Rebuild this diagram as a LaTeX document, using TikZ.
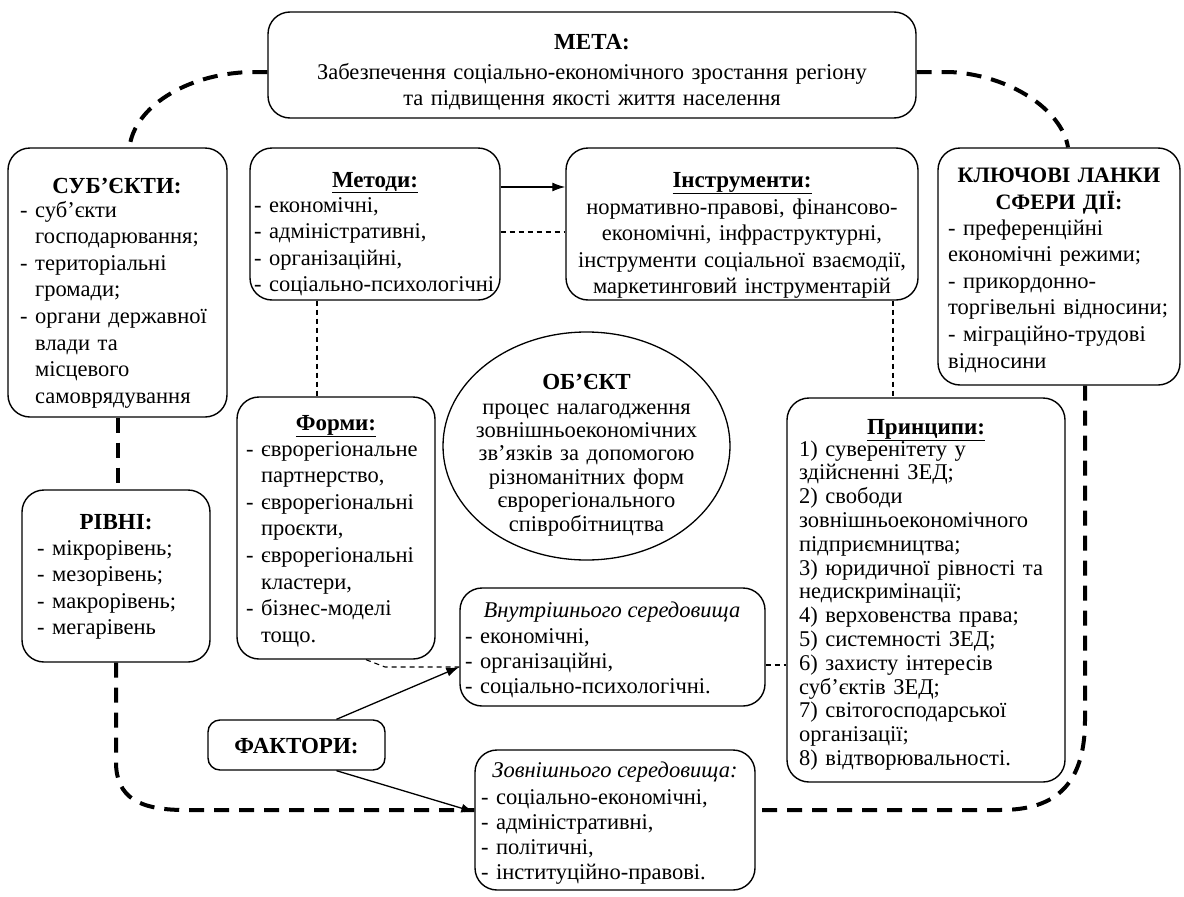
\documentclass[tikz,border=0pt]{standalone}
\usepackage{fontspec}
\setmainfont{Liberation Serif}
\usetikzlibrary{arrows.meta,shapes.geometric}
\begin{document}
\begin{tikzpicture}[x=1pt,y=-1pt,
  bx/.style={draw, line width=1.4pt, rounded corners=22pt, inner sep=0pt},
  txt/.style={inner sep=0pt, font=\fontsize{22.5}{26.6}\selectfont},
  ttl/.style={inner sep=0pt, font=\fontsize{23}{27}\selectfont\bfseries},
  utl/.style={inner sep=0pt, font=\fontsize{23}{27}\selectfont\bfseries},
  big/.style={line width=4pt, dash pattern=on 15pt off 10pt},
  thin/.style={line width=1.1pt, dash pattern=on 5pt off 4pt},
  arr/.style={line width=1.3pt, -{Latex[length=13pt,width=9pt]}},
]
\useasboundingbox (0,0) rectangle (1184,897);
\fill[white] (0,0) rectangle (1184,897);

% boxes
\node[bx, minimum width=648pt, minimum height=106pt] (meta) at (592,65) {};
\node[bx, minimum width=219pt, minimum height=269pt] (subj) at (117.5,282.5) {};
\node[bx, minimum width=188pt, minimum height=172pt] (rivni) at (116,576) {};
\node[bx, minimum width=250pt, minimum height=152pt] (metody) at (375,224) {};
\node[bx, minimum width=352pt, minimum height=152pt] (instr) at (742,224) {};
\node[bx, minimum width=242pt, minimum height=237pt] (klyuch) at (1059,266.5) {};
\node[bx, minimum width=198pt, minimum height=262pt] (formy) at (336,528) {};
\node[draw, ellipse, line width=1.3pt, minimum width=287pt, minimum height=228pt] (obj) at (586.5,446) {};
\node[bx, minimum width=278pt, minimum height=384pt] (pryn) at (926,590) {};
\node[bx, minimum width=305pt, minimum height=118pt] (vnutr) at (612.5,647) {};
\node[bx, rounded corners=12pt, minimum width=177pt, minimum height=50pt] (fakt) at (296.5,745) {};
\node[bx, minimum width=280pt, minimum height=140pt] (zovn) at (615,820) {};

% texts
\node[ttl, anchor=base] (metah) at (592,49) {МЕТА:};
\node[txt, anchor=base, align=center, text width=640pt] (metab) at (592,79) {Забезпечення соціально-економічного зростання регіону\\та підвищення якості життя населення};

\node[ttl, anchor=base] (subjh) at (117,193) {СУБ’ЄКТИ:};
\node[txt, anchor=base west, align=left, text width=300pt] (subjb) at (20,217) {- суб’єкти\\\hphantom{- }господарювання;\\- територіальні\\\hphantom{- }громади;\\- органи державної\\\hphantom{- }влади та\\\hphantom{- }місцевого\\\hphantom{- }самоврядування};

\node[ttl, anchor=base] (rivnih) at (116,529) {РІВНІ:};
\node[txt, anchor=base west, align=left, text width=300pt] (rivnib) at (37,555) {- мікрорівень;\\- мезорівень;\\- макрорівень;\\- мегарівень};

\node[utl, anchor=base] (metodyh) at (375,187) {\underline{Методи:}};
\node[txt, anchor=base west, align=left, text width=300pt] (metodyb) at (254,212) {- економічні,\\- адміністративні,\\- організаційні,\\- соціально-психологічні};

\node[utl, anchor=base] (instrh) at (742,187) {\underline{Інструменти:}};
\node[txt, anchor=base, align=center, text width=350pt] (instrb) at (742,214) {нормативно-правові, фінансово-\\економічні, інфраструктурні,\\інструменти соціальної взаємодії,\\маркетинговий інструментарій};

\node[ttl, anchor=base, align=center, text width=240pt, font=\fontsize{22}{27}\selectfont\bfseries] (klyuchh) at (1059,182) {КЛЮЧОВІ ЛАНКИ\\СФЕРИ ДІЇ:};
\node[txt, anchor=base west, align=left, text width=300pt] (klyuchb) at (948,235) {- преференційні\\економічні режими;\\- прикордонно-\\торгівельні відносини;\\- міграційно-трудові\\відносини};

\node[utl, anchor=base] (formyh) at (336,430) {\underline{Форми:}};
\node[txt, anchor=base west, align=left, text width=300pt] (formyb) at (246,456) {- єврорегіональне\\\hphantom{- }партнерство,\\- єврорегіональні\\\hphantom{- }проєкти,\\- єврорегіональні\\\hphantom{- }кластери,\\- бізнес-моделі\\\hphantom{- }тощо.};

\node[ttl, anchor=base] (objh) at (586.5,389) {ОБ’ЄКТ};
\node[txt, anchor=base, align=center, text width=280pt, font=\fontsize{22.5}{23.4}\selectfont] (objb) at (586.5,414) {процес налагодження\\зовнішньоекономічних\\зв’язків за допомогою\\різноманітних форм\\єврорегіонального\\співробітництва};

\node[utl, anchor=base] (prynh) at (926,434) {\underline{Принципи:}};
\node[txt, anchor=base west, align=left, text width=300pt, font=\fontsize{22.5}{23.8}\selectfont] (prynb) at (799,456) {1) суверенітету у\\здійсненні ЗЕД;\\2) свободи\\зовнішньоекономічного\\підприємництва;\\3) юридичної рівності та\\недискримінації;\\4) верховенства права;\\5) системності ЗЕД;\\6) захисту інтересів\\суб’єктів ЗЕД;\\7) світогосподарської\\організації;\\8) відтворювальності.};

\node[txt, anchor=base, font=\fontsize{22.5}{26.6}\selectfont\itshape] (vnutrh) at (612,617) {Внутрішнього середовища};
\node[txt, anchor=base west, align=left, text width=300pt, font=\fontsize{22.5}{25}\selectfont] (vnutrb) at (465,643) {- економічні,\\- організаційні,\\- соціально-психологічні.};

\node[ttl, anchor=base] (fakth) at (296.5,753) {ФАКТОРИ:};

\node[txt, anchor=base, font=\fontsize{22.5}{26.6}\selectfont\itshape] (zovnh) at (615,777) {Зовнішнього середовища:};
\node[txt, anchor=base west, align=left, text width=300pt, font=\fontsize{22.5}{25.3}\selectfont] (zovnb) at (481,804) {- соціально-економічні,\\- адміністративні,\\- політичні,\\- інституційно-правові.};

% big dashed frame
\draw[big] ([yshift=-7pt]meta.west) -- (250,72) .. controls (185,74) and (134,108) .. ([xshift=12pt]subj.north);
\draw[big] ([yshift=-7pt]meta.east) -- (950,72) .. controls (1010,75) and (1062,110) .. ([xshift=9pt]klyuch.north);
\draw[big] (subj.south) -- (subj.south |- rivni.north);
\draw[big] (rivni.south) -- (116,762) .. controls (116,798) and (140,810) .. (185,810) -- ([yshift=10pt]zovn.west);
\draw[big] ([xshift=26pt]klyuch.south) -- (1085,720) .. controls (1085,790) and (1050,810) .. (1000,810) -- ([yshift=10pt]zovn.east);

% thin dashed links
\draw[thin] ([xshift=-58pt]metody.south) -- ([xshift=-58pt]metody.south |- formy.north);
\draw[thin] ([xshift=151pt]instr.south) -- ([xshift=151pt]instr.south |- pryn.north);
\draw[thin] ([yshift=-8pt]metody.east) -- ([yshift=-8pt]metody.east -| instr.west);
\draw[thin] ([xshift=30pt]formy.south) -- (385,667) -- ([yshift=-20pt]vnutr.west);
\draw[thin] ([yshift=-18pt]vnutr.east) -- ([yshift=-18pt]vnutr.east -| pryn.west);

% arrows
\draw[arr] ([yshift=37pt]metody.east) -- ([yshift=37pt]metody.east -| instr.west);
\draw[arr] ([xshift=40pt]fakt.north) -- ([yshift=-20pt]vnutr.west);
\draw[arr] ([xshift=40pt]fakt.south) -- ([yshift=8pt]zovn.west);
\end{tikzpicture}
\end{document}
